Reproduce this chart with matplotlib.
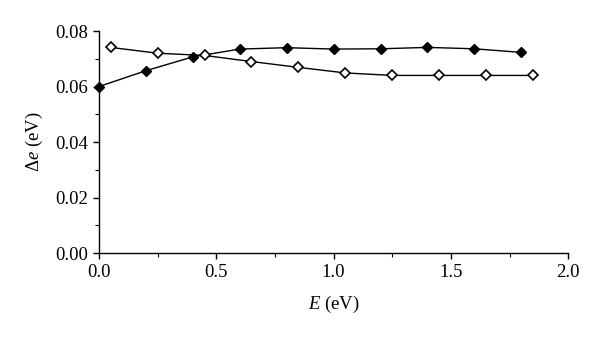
import matplotlib
matplotlib.use('Agg')
import matplotlib.pyplot as plt
from matplotlib.ticker import MultipleLocator, FormatStrFormatter

# filled diamonds
E_filled = [0.0, 0.2, 0.4, 0.6, 0.8, 1.0, 1.2, 1.4, 1.6, 1.8]
de_filled = [0.0600, 0.0657, 0.0707, 0.0735, 0.0740, 0.0735, 0.0736, 0.0741, 0.0736, 0.0723]

# open diamonds
E_open = [0.05, 0.25, 0.45, 0.65, 0.85, 1.05, 1.25, 1.45, 1.65, 1.85]
de_open = [0.0741, 0.0720, 0.0712, 0.0690, 0.0669, 0.0649, 0.0640, 0.0640, 0.0640, 0.0640]

plt.rcParams['font.family'] = ['Liberation Serif', 'DejaVu Serif']
plt.rcParams['mathtext.fontset'] = 'custom'
plt.rcParams['mathtext.rm'] = 'Liberation Serif'
plt.rcParams['mathtext.it'] = 'Liberation Serif:italic'
plt.rcParams['font.size'] = 13.5

fig = plt.figure(figsize=(6.0, 3.41), dpi=100)
ax = fig.add_axes([0.165, 0.258, 0.782, 0.651])

ax.plot(E_filled, de_filled, color='black', lw=1.0, marker='D', ms=5.5,
        mfc='black', mec='black', clip_on=False, zorder=3)
ax.plot(E_open, de_open, color='black', lw=1.0, marker='D', ms=5.5,
        mfc='white', mec='black', mew=1.2, clip_on=False, zorder=3)

ax.set_xlim(0, 2.0)
ax.set_ylim(0, 0.08)
ax.xaxis.set_major_locator(MultipleLocator(0.5))
ax.xaxis.set_minor_locator(MultipleLocator(0.25))
ax.yaxis.set_major_locator(MultipleLocator(0.02))
ax.yaxis.set_minor_locator(MultipleLocator(0.01))
ax.xaxis.set_major_formatter(FormatStrFormatter('%.1f'))
ax.yaxis.set_major_formatter(FormatStrFormatter('%.2f'))

for s in ['top', 'right']:
    ax.spines[s].set_visible(False)
for s in ['left', 'bottom']:
    ax.spines[s].set_linewidth(1.0)

ax.tick_params(which='major', direction='out', length=4, width=1.0, pad=4)
ax.tick_params(which='minor', direction='out', length=3, width=0.8)

ax.set_xlabel(r'$E$ (eV)', labelpad=9)
ax.set_ylabel(r'$\Delta e$ (eV)', labelpad=7)

fig.savefig('out.png', dpi=100)
